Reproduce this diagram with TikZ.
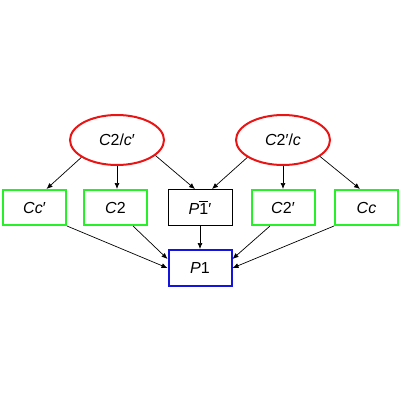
\documentclass[tikz,border=0pt]{standalone}
\usepackage{fontspec}
\setmainfont{Liberation Sans}
\usetikzlibrary{shapes.geometric,arrows.meta}
\definecolor{myred}{RGB}{235,20,20}
\definecolor{mygreen}{RGB}{40,240,40}
\definecolor{myblue}{RGB}{20,20,220}
\tikzset{
  lbl/.style={font=\fontsize{16pt}{19pt}\selectfont},
  grp/.style={lbl,ellipse,draw=myred,line width=2pt,minimum width=94pt,minimum height=50pt,inner sep=0pt},
  gbox/.style={lbl,rectangle,draw=mygreen,line width=2pt,minimum width=63pt,minimum height=35pt,inner sep=0pt},
  kbox/.style={lbl,rectangle,draw=black,line width=0.9pt,minimum width=64pt,minimum height=36pt,inner sep=0pt},
  bbox/.style={lbl,rectangle,draw=myblue,line width=2pt,minimum width=63pt,minimum height=36pt,inner sep=0pt},
  conn/.style={draw=black,line width=0.7pt,-{Latex[length=6pt,width=5pt]}}
}
\begin{document}
\begin{tikzpicture}[x=1pt,y=-1pt]
\useasboundingbox (0,0) rectangle (400,400);
\node[grp] (L) at (117,140) {\textit{C}2/\textit{c}′};
\node[grp] (R) at (283,140) {\textit{C}2′/\textit{c}};
\node[gbox] (b1) at (34.5,207.5) {\textit{Cc}′};
\node[gbox] (b2) at (115.5,207.5) {\textit{C}2};
\node[kbox] (b3) at (200,207.5) {\textit{P}$\overline{\mbox{1}}$′};
\node[gbox] (b4) at (283,207.5) {\textit{C}2′};
\node[gbox] (b5) at (366.5,207.5) {\textit{Cc}};
\node[bbox] (P) at (200,268) {\textit{P}1};
\draw[conn] (L.206) -- ([xshift=12pt]b1.north);
\draw[conn] (L.south) -- (L.south |- b2.north);
\draw[conn] (L.-22) -- ([xshift=-5pt]b3.north);
\draw[conn] (R.206) -- ([xshift=12pt]b3.north);
\draw[conn] (R.south) -- (R.south |- b4.north);
\draw[conn] (R.-24) -- ([xshift=-6.5pt]b5.north);
\draw[conn] (b1.south east) -- (P.west);
\draw[conn] ([xshift=17.5pt]b2.south) -- ([yshift=9pt]P.west);
\draw[conn] (b3.south) -- (P.north);
\draw[conn] ([xshift=-13pt]b4.south) -- ([yshift=9pt]P.east);
\draw[conn] (b5.south west) -- (P.east);
\end{tikzpicture}
\end{document}
